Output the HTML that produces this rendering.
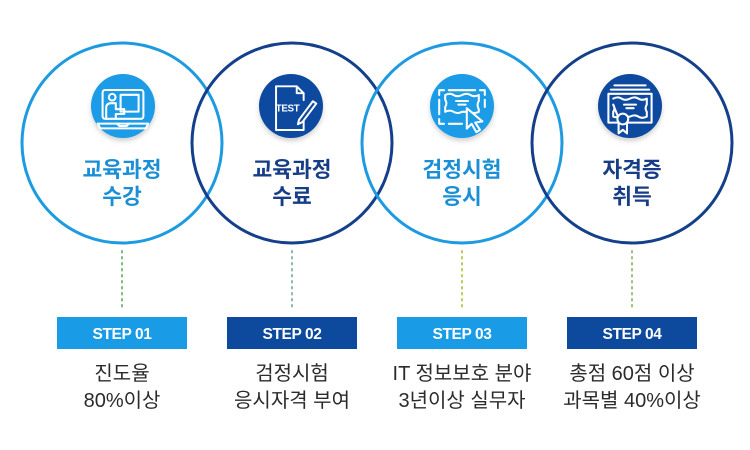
<!DOCTYPE html>
<html>
<head>
<meta charset="utf-8">
<style>
html,body{margin:0;padding:0;background:#fff;}
body{width:750px;height:450px;overflow:hidden;}
svg{display:block;}
.t{font-family:"Liberation Sans","Noto Sans CJK KR",sans-serif;}
</style>
</head>
<body>
<svg width="750" height="450" viewBox="0 0 750 450" xmlns="http://www.w3.org/2000/svg">
<defs>
<filter id="sh" x="-50%" y="-50%" width="200%" height="200%">
<feDropShadow dx="0" dy="3" stdDeviation="2.5" flood-color="#000" flood-opacity="0.18"/>
</filter>
</defs>
<rect width="750" height="450" fill="#fff"/>

<!-- big circles -->
<circle cx="122" cy="143" r="100" fill="none" stroke="#1e9ae0" stroke-width="3"/>
<circle cx="292" cy="143" r="100" fill="none" stroke="#143f8a" stroke-width="3"/>
<circle cx="462" cy="143" r="100" fill="none" stroke="#1e9ae0" stroke-width="3"/>
<circle cx="632" cy="143" r="100" fill="none" stroke="#143f8a" stroke-width="3"/>

<!-- icon circles -->
<circle cx="123" cy="106" r="32" fill="#1a9be6" filter="url(#sh)"/>
<circle cx="291" cy="106" r="32" fill="#0d4a9e" filter="url(#sh)"/>
<circle cx="462" cy="106" r="32" fill="#1a9be6" filter="url(#sh)"/>
<circle cx="630" cy="106" r="32" fill="#0d4a9e" filter="url(#sh)"/>

<!-- icon 1: laptop with person -->
<g transform="translate(123,108) scale(1.2) translate(-123,-106)">
<g fill="none" stroke="#fff" stroke-width="1.7" stroke-linejoin="round" stroke-linecap="round">
<rect x="106" y="91" width="34" height="24" rx="2"/>
<line x1="102" y1="119" x2="144" y2="119"/>
<path d="M102 119 L104 123 L142 123 L144 119"/>
<path d="M118 119 L120 121 L126 121 L128 119"/>
<circle cx="114" cy="97" r="2.8"/>
<path d="M109 115 V106 Q109 102 113 102 H117 V107 H124"/>
<path d="M117 115 V111 H124 V107"/>
<rect x="121" y="95" width="15" height="14"/>
</g>
</g>

<!-- icon 2: TEST document with pencil -->
<g transform="translate(291,107) scale(1.15) translate(-291,-106)">
<g fill="none" stroke="#fff" stroke-width="1.7" stroke-linejoin="round" stroke-linecap="round">
<path d="M278 88 H296 L302 94 V100"/>
<path d="M278 88 V126 H302 V118"/>
<path d="M296 88 V94 H302"/>
<path d="M298 117 L310 101 L313 103 L301 119 L297 121 Z"/>
</g>
<text x="288" y="110" text-anchor="middle" class="t" font-size="8.5" font-weight="bold" fill="#fff" letter-spacing="-0.3">TEST</text>
</g>

<!-- icon 3: certificate with cursor -->
<g transform="translate(462,107) scale(1.2) translate(-462,-106)">
<g fill="none" stroke="#fff" stroke-width="1.7" stroke-linejoin="round" stroke-linecap="round">
<path d="M443 96 V92 H447"/><path d="M451 92 H473"/><path d="M477 92 H481 V96"/>
<path d="M443 100 V112"/><path d="M481 100 V106"/>
<path d="M443 116 V120 H447"/><path d="M451 120 H462"/>
<path d="M448 96 Q452 94 455 96 Q458 98 462 96 Q466 94 469 96 Q472 98 476 96 V101 Q474 104 476 108 V110 Q472 112 469 110 H462 Q458 112 455 110 Q452 108 448 110 V106 Q450 103 448 100 Z"/>
<line x1="457" y1="101" x2="467" y2="101"/>
<line x1="459" y1="104" x2="465" y2="104"/>
<path d="M466 107 L466 124 L470 120 L474 127 L477 125 L473 119 L479 118 Z" fill="#1a9be6"/>
</g>
</g>

<!-- icon 4: certificate stack with medal -->
<g transform="translate(630,107) scale(1.2) translate(-630,-106)">
<g fill="none" stroke="#fff" stroke-width="1.7" stroke-linejoin="round" stroke-linecap="round">
<line x1="617" y1="88" x2="643" y2="88"/>
<line x1="614" y1="91.5" x2="646" y2="91.5"/>
<rect x="612" y="95" width="36" height="24"/>
<path d="M616 99 Q620 97 623 99 Q626 101 630 99 Q634 97 637 99 Q640 101 644 99 V104 Q642 107 644 110 V114 Q640 116 637 114 Q634 112 630 114 H628 M620 114 Q618 115 616 114 V110 Q618 107 616 104 Z"/>
<line x1="625" y1="104" x2="635" y2="104"/>
<line x1="627" y1="107" x2="633" y2="107"/>
<circle cx="624" cy="116" r="4.5" fill="#0d4a9e"/>
<path d="M620.5 120 V128 L624 125 L627.5 128 V120"/>
</g>
</g>

<!-- titles -->
<g class="t" font-size="21.5" font-weight="bold" text-anchor="middle">
<text x="122" y="177" fill="#1a8fd6">교육과정</text>
<text x="122" y="204" fill="#1a8fd6">수강</text>
<text x="292" y="177" fill="#173d86">교육과정</text>
<text x="292" y="204" fill="#173d86">수료</text>
<text x="462" y="177" fill="#1a8fd6">검정시험</text>
<text x="462" y="204" fill="#1a8fd6">응시</text>
<text x="632" y="177" fill="#173d86">자격증</text>
<text x="632" y="204" fill="#173d86">취득</text>
</g>

<!-- dotted connectors -->
<g stroke-width="2" stroke-dasharray="1.5 4.5" stroke-linecap="round">
<line x1="122" y1="251" x2="122" y2="309" stroke="#7dba7d"/>
<line x1="292" y1="251" x2="292" y2="309" stroke="#8cb8a8"/>
<line x1="462" y1="251" x2="462" y2="309" stroke="#bccb55"/>
<line x1="632" y1="251" x2="632" y2="309" stroke="#9cbf7c"/>
</g>

<!-- step boxes -->
<rect x="57" y="317" width="130" height="32" fill="#1a9be6"/>
<rect x="227" y="317" width="130" height="32" fill="#0d4a9e"/>
<rect x="397" y="317" width="130" height="32" fill="#1a9be6"/>
<rect x="567" y="317" width="130" height="32" fill="#0d4a9e"/>
<g class="t" font-size="15.5" font-weight="bold" fill="#fff" text-anchor="middle" letter-spacing="-0.4">
<text x="122" y="339">STEP 01</text>
<text x="292" y="339">STEP 02</text>
<text x="462" y="339">STEP 03</text>
<text x="632" y="339">STEP 04</text>
</g>

<!-- descriptions -->
<g class="t" font-size="20" fill="#2b2b2b" text-anchor="middle">
<text x="122" y="380">진도율</text>
<text x="122" y="407">80%이상</text>
<text x="292" y="380">검정시험</text>
<text x="292" y="407">응시자격 부여</text>
<text x="462" y="380">IT 정보보호 분야</text>
<text x="462" y="407">3년이상 실무자</text>
<text x="632" y="380">총점 60점 이상</text>
<text x="632" y="407">과목별 40%이상</text>
</g>
</svg>
</body>
</html>
